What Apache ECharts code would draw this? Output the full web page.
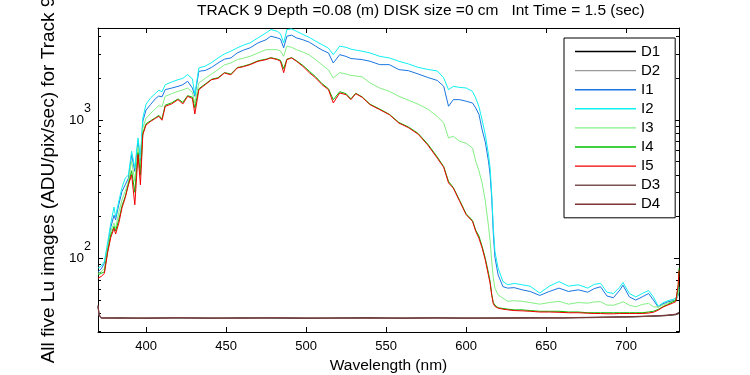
<!DOCTYPE html>
<html>
<head>
<meta charset="utf-8">
<title>TRACK 9 Lu spectra</title>
<script src="https://cdn.jsdelivr.net/npm/echarts@6/dist/echarts.min.js"></script>
<style>
  html, body { margin: 0; padding: 0; background: #fff; }
  #chart { width: 750px; height: 375px; }
</style>
</head>
<body>
<div id="chart"></div>
<script>
// wavelength grid (nm) shared by the five Lu images
const wavelength = [
  370, 372, 374, 376, 378, 380, 381, 383, 385, 387,
  389, 391, 393, 395, 396.5, 398, 400, 403, 406, 408,
  410, 412, 416, 420, 423, 426, 429, 430.5, 433, 437,
  441, 445, 449, 453, 457, 461, 465, 470, 475, 478,
  482, 484, 486, 488, 491, 494, 498, 502, 506, 510,
  514, 517, 521, 525, 528, 531, 535, 540, 546, 552,
  558, 564, 570, 576, 582, 586, 589, 592, 596, 600,
  604, 606, 608, 610, 612, 614, 615, 616, 617, 618,
  620, 623, 626, 630, 635, 640, 646, 652, 658, 664,
  670, 676, 680, 684, 688, 692, 696, 698, 702, 706,
  710, 714, 717, 720, 723, 726, 729, 731, 732.5, 733
]

const valuesI1 = [
  80, 84, 92, 122, 168, 205, 190, 245, 305, 340,
  380, 561, 425, 700, 505, 980, 1180, 1300, 1430, 1490,
  1470, 1657, 1700, 1750, 1800, 1905, 1700, 1483, 2249, 2280,
  2400, 2582, 2750, 2807, 3050, 3200, 3320, 3607, 3800, 4030,
  3920, 3850, 3320, 4030, 4100, 3920, 3800, 3650, 3415, 3200,
  3050, 2582, 2965, 2880, 2780, 2760, 2730, 2656, 2512, 2512,
  2312, 2270, 2150, 2030, 1930, 1750, 1256, 1403, 1403, 1366,
  1327, 1221, 1100, 850, 690, 500, 402, 274, 150, 102,
  76, 62.5, 61, 61.5, 59.3, 57.7, 54, 57.7, 61, 57.7,
  59.3, 57, 60.5, 62.4, 53.5, 52, 59, 64, 52.7, 50,
  52.7, 55.8, 50, 44.5, 47, 48.5, 49.5, 50, 54, 58
]

const valuesI2 = [
  85, 88, 95, 130, 180, 235, 200, 260, 325, 380,
  400, 594, 450, 742, 531, 1034, 1300, 1450, 1560, 1640,
  1600, 1800, 1880, 1955, 2000, 2130, 1980, 1524, 2376, 2450,
  2600, 2807, 3000, 3142, 3320, 3480, 3607, 3920, 4260, 4500,
  4375, 4200, 3607, 4500, 4550, 4375, 4150, 3950, 3710, 3500,
  3300, 2965, 3415, 3350, 3250, 3200, 3142, 3050, 2885, 2807,
  2656, 2540, 2400, 2320, 2260, 2013, 1657, 1750, 1720, 1703,
  1611, 1442, 1250, 1000, 780, 560, 450, 288, 165, 112,
  85, 68, 64.5, 66, 64.5, 63, 56.2, 63, 68, 63,
  64.5, 61, 65, 66, 57, 55.8, 62, 67, 55.8, 52.7,
  55.8, 58.5, 52.7, 45.2, 47.8, 49.5, 50.5, 51.4, 57, 62
]

const valuesI3 = [
  78, 80, 85, 118, 158, 180, 165, 215, 265, 305,
  360, 505, 360, 640, 450, 875, 1030, 1120, 1210, 1270,
  1250, 1483, 1550, 1611, 1650, 1703, 1580, 1327, 1852, 2000,
  2150, 2310, 2500, 2582, 2730, 2800, 2885, 3050, 3220, 3220,
  3220, 3150, 2885, 3415, 3350, 3220, 3100, 2950, 2730, 2500,
  2300, 2013, 2198, 2150, 2100, 2080, 2050, 1852, 1703, 1611,
  1483, 1390, 1300, 1200, 1060, 950, 742, 762, 701, 680,
  627, 503, 430, 350, 260, 170, 133, 95, 72, 61,
  54.5, 51.6, 49, 49.5, 49, 48, 46.7, 48, 49, 46.7,
  48, 47.5, 48.5, 48.7, 46, 45.9, 47.5, 48.7, 45.9, 44.7,
  46.5, 47.3, 44.7, 44.5, 46, 47.5, 48.8, 50, 55, 60
]

const valuesI4 = [
  76, 78, 80, 112, 148, 170, 158, 190, 240, 280,
  345, 430, 300, 580, 400, 800, 940, 990, 1040, 1080,
  1020, 1280, 1330, 1420, 1340, 1500, 1460, 1220, 1680, 1820,
  1970, 2020, 2200, 2150, 2390, 2450, 2530, 2680, 2750, 2820,
  2750, 2700, 2350, 2750, 2820, 2680, 2480, 2250, 2050, 1830,
  1680, 1400, 1600, 1550, 1420, 1560, 1470, 1300, 1200, 1100,
  960, 890, 800, 670, 540, 460, 360, 325, 262, 210,
  188, 160, 145, 122, 100, 78, 68, 55, 48, 46,
  44, 43.5, 43, 42.5, 42.5, 42, 41.5, 41.5, 41.5, 41,
  41, 40.5, 40.5, 40.5, 40.5, 40.5, 40.5, 40.5, 40.5, 40.5,
  40.5, 41, 41.5, 42.8, 44.8, 46.5, 48.5, 49.5, 62, 85
]

const valuesI5 = [
  72, 74, 78, 110, 142, 165, 150, 180, 232, 274,
  340, 402, 244, 561, 340, 783, 920, 979, 1030, 1063,
  996, 1256, 1306, 1403, 1306, 1483, 1430, 1105, 1657, 1800,
  1955, 2000, 2187, 2120, 2376, 2430, 2512, 2656, 2730, 2807,
  2730, 2656, 2198, 2730, 2807, 2656, 2443, 2198, 2013, 1800,
  1657, 1327, 1567, 1524, 1403, 1550, 1460, 1290, 1188, 1093,
  950, 880, 790, 660, 530, 455, 351, 322, 258, 207,
  185, 157, 140, 119, 97, 75, 66, 54, 47, 45,
  43.7, 43, 42.5, 42, 41.8, 41.5, 41, 41, 40.8, 40.5,
  40.5, 40.2, 40, 40, 39.8, 39.8, 40, 40, 40, 40,
  40, 40.3, 40.8, 42.3, 44.5, 46, 47.5, 48.7, 65, 82
]

// dark frames
const darkWavelength = [370, 370.7, 372, 385, 400, 420, 440, 460, 480, 500, 520, 540, 560, 580, 600, 620, 640, 660, 680, 700, 715, 725, 731, 733]
const valuesD1 = [45, 39, 37, 37.2, 36.8, 37.1, 36.9, 37.2, 37, 36.8, 37.1, 37.3, 36.9, 37.2, 37, 37.1, 37.3, 37.2, 37.4, 37.8, 38.1, 38.6, 39.2, 40]
const valuesD2 = [44, 38.5, 36.8, 37, 37.1, 36.9, 37.2, 36.9, 37.1, 37.2, 36.9, 37, 37.2, 37, 37.2, 36.9, 37.1, 37.4, 37.3, 37.6, 38.3, 38.8, 39.5, 40.5]
const valuesD3 = [46, 39.5, 37.2, 36.9, 37.2, 37.3, 37, 37.1, 37.3, 37, 37.2, 36.9, 37.1, 37.3, 36.9, 37.2, 37, 37.3, 37.6, 37.7, 38.2, 38.9, 39.4, 41]
const valuesD4 = [45.5, 39, 37.1, 37.1, 37, 37.2, 37.1, 37, 37.2, 37.1, 37, 37.2, 37, 37.1, 37.1, 37, 37.2, 37.1, 37.5, 37.9, 38.4, 38.7, 39.6, 40.5]

const xTicks = [400, 450, 500, 550, 600, 650, 700]
const yMajorTicks = [100, 1000]
const yMinorTicks = [30, 40, 50, 60, 70, 80, 90, 200, 300, 400, 500, 600, 700, 800, 900, 2000, 3000, 4000]

const seriesNames = ['D1', 'D2', 'I1', 'I2', 'I3', 'I4', 'I5', 'D3', 'D4']
const seriesColors = ['#000000', '#999999', '#1a75e0', '#10f0f0', '#84f084', '#00c000', '#f00000', '#7b5252', '#7d3535']

const font = 'Liberation Sans, Arial, Helvetica, sans-serif'
const yMin = 29.4
const yMax = 4620

const pairs = (xs, ys) => xs.map((x, i) => [x, ys[i]])

const seriesData = {
  D1: pairs(darkWavelength, valuesD1),
  D2: pairs(darkWavelength, valuesD2),
  I1: pairs(wavelength, valuesI1),
  I2: pairs(wavelength, valuesI2),
  I3: pairs(wavelength, valuesI3),
  I4: pairs(wavelength, valuesI4),
  I5: pairs(wavelength, valuesI5),
  D3: pairs(darkWavelength, valuesD3),
  D4: pairs(darkWavelength, valuesD4)
}

const chart = echarts.init(document.getElementById('chart'))

const black = { color: '#000', width: 1 }

// helper for the y axes (major/minor ticks on both sides)
const yAxisBase = (position, ticks, length, showLine) => ({
  type: 'log',
  logBase: 10,
  position,
  min: yMin,
  max: yMax,
  splitLine: { show: false },
  axisLine: { show: showLine, lineStyle: black },
  axisTick: { show: true, inside: true, length, customValues: ticks, lineStyle: black },
  axisLabel: { show: false }
})

const xAxisBase = (position) => ({
  type: 'value',
  position,
  min: 370,
  max: 733,
  splitLine: { show: false },
  axisLine: { show: true, lineStyle: black },
  axisTick: { show: true, inside: true, length: 5, customValues: xTicks, lineStyle: black },
  axisLabel: { show: false }
})

const leftAxis = yAxisBase('left', yMajorTicks, 5, true)
leftAxis.axisLabel = {
  show: true,
  customValues: yMajorTicks,
  margin: 7,
  formatter: (v) => '{b|10}{s|' + Math.round(Math.log10(v)) + '}',
  rich: {
    b: { fontSize: 13.5, lineHeight: 36, color: '#000', fontFamily: font, verticalAlign: 'middle' },
    s: { fontSize: 12.5, lineHeight: 12, color: '#000', fontFamily: font, verticalAlign: 'top' }
  }
}
leftAxis.name = 'All five Lu images (ADU/pix/sec) for Track 9'
leftAxis.nameLocation = 'middle'
leftAxis.nameGap = 25
leftAxis.nameTextStyle = { fontSize: 19, color: '#000', fontFamily: font }

const bottomAxis = xAxisBase('bottom')
bottomAxis.axisLabel = { show: true, customValues: xTicks, margin: 8, fontSize: 13, color: '#000', fontFamily: font }
bottomAxis.name = 'Wavelength (nm)'
bottomAxis.nameLocation = 'middle'
bottomAxis.nameGap = 23
bottomAxis.nameTextStyle = { fontSize: 15.5, color: '#000', fontFamily: font }

const option = {
  animation: false,
  backgroundColor: '#fff',
  title: {
    text: 'TRACK 9 Depth =0.08 (m) DISK size =0 cm   Int Time = 1.5 (sec)',
    left: 197,
    top: 3,
    padding: 0,
    textStyle: { fontSize: 15.5, fontWeight: 'normal', color: '#000', fontFamily: font }
  },
  grid: { left: 98, top: 28, width: 581, height: 304, outerBoundsMode: 'none' },
  legend: {
    orient: 'vertical',
    left: 564,
    top: 38,
    data: seriesNames.map((name) => ({ name, icon: 'rect' })),
    itemWidth: 61,
    itemHeight: 1.4,
    itemGap: 4.1,
    padding: [6, 15, 6, 11],
    backgroundColor: '#fff',
    borderColor: '#000',
    borderWidth: 1,
    selectedMode: false,
    textStyle: { fontSize: 15, lineHeight: 15, color: '#000', fontFamily: font }
  },
  xAxis: [bottomAxis, xAxisBase('top')],
  yAxis: [
    leftAxis,
    yAxisBase('left', yMinorTicks, 3, false),
    yAxisBase('right', yMajorTicks, 5, true),
    yAxisBase('right', yMinorTicks, 3, false)
  ],
  series: seriesNames.map((name, i) => ({
    name,
    type: 'line',
    xAxisIndex: 0,
    yAxisIndex: 0,
    data: seriesData[name],
    symbol: 'none',
    showSymbol: false,
    color: seriesColors[i],
    lineStyle: { width: 1, color: seriesColors[i] },
    emphasis: { disabled: true }
  }))
}

chart.setOption(option)
</script>
</body>
</html>
